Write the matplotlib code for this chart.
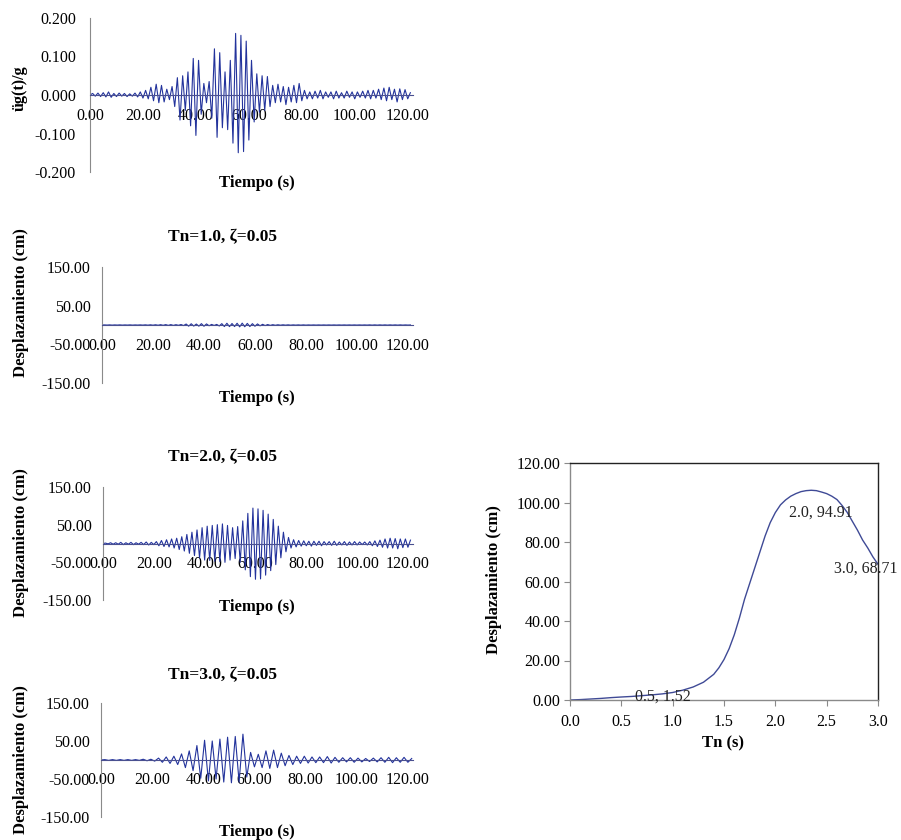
import matplotlib
matplotlib.use("Agg")
import matplotlib.pyplot as plt
import numpy as np
from matplotlib.ticker import FormatStrFormatter

plt.rcParams["font.family"] = ["Liberation Serif", "DejaVu Serif"]

W, H = 901, 840
BLUE = "#23339c"
AXIS = "#8a8a8a"

# ground acceleration (g), sampled every 1.0 s
ACC_DT = 1.0
ACC = [
    0.000, 0.004, -0.003, 0.005, -0.004, 0.006, -0.005, 0.008, -0.006, 0.004,
    -0.004, 0.005, -0.003, 0.004, -0.004, 0.003, -0.003, 0.005, -0.005, 0.008,
    -0.008, 0.012, -0.010, 0.020, -0.015, 0.028, -0.020, 0.025, -0.018, 0.015,
    -0.012, 0.022, -0.030, 0.045, -0.065, 0.050, -0.040, 0.060, -0.080, 0.095,
    -0.105, 0.090, -0.050, 0.030, -0.020, 0.035, -0.060, 0.120, -0.110, 0.110,
    -0.085, 0.060, -0.090, 0.090, -0.125, 0.160, -0.150, 0.155, -0.147, 0.140,
    -0.117, 0.090, -0.070, 0.055, -0.045, 0.050, -0.040, 0.048, -0.030, 0.025,
    -0.020, 0.028, -0.018, 0.022, -0.025, 0.020, -0.018, 0.025, -0.020, 0.030,
    -0.015, 0.012, -0.010, 0.008, -0.010, 0.010, -0.008, 0.012, -0.010, 0.008,
    -0.006, 0.008, -0.010, 0.010, -0.008, 0.006, -0.008, 0.010, -0.006, 0.008,
    -0.010, 0.008, -0.006, 0.010, -0.008, 0.012, -0.010, 0.012, -0.008, 0.015,
    -0.012, 0.018, -0.015, 0.020, -0.012, 0.015, -0.018, 0.016, -0.012, 0.014,
    -0.010, 0.006,
]

# displacement, Tn = 1.0 s (cm), every 1.0 s
U1_DT = 1.0
U1 = [
    0, 0.2, -0.2, 0.3, -0.3, 0.2, -0.2, 0.3, -0.3, 0.2,
    -0.2, 0.3, -0.3, 0.2, -0.2, 0.3, -0.3, 0.4, -0.4, 0.5,
    -0.5, 0.6, -0.6, 0.8, -0.8, 1.0, -1.0, 1.0, -1.0, 0.8,
    -0.8, 1.2, -1.5, 2.5, -3.0, 3.2, -2.8, 2.5, -3.0, 3.5,
    -3.2, 2.8, -2.0, 1.5, -1.2, 1.5, -2.5, 3.5, -4.0, 4.5,
    -4.2, 3.8, -4.0, 4.5, -4.8, 4.8, -4.5, 4.2, -4.0, 3.5,
    -3.2, 2.8, -2.2, 1.8, -1.5, 1.2, -1.0, 0.8, -0.7, 0.6,
    -0.5, 0.5, -0.4, 0.4, -0.4, 0.3, -0.3, 0.3, -0.3, 0.3,
    -0.3, 0.2, -0.2, 0.2, -0.2, 0.2, -0.2, 0.2, -0.2, 0.2,
    -0.2, 0.2, -0.2, 0.2, -0.2, 0.2, -0.2, 0.2, -0.2, 0.2,
    -0.2, 0.2, -0.2, 0.2, -0.2, 0.3, -0.3, 0.3, -0.3, 0.3,
    -0.3, 0.3, -0.3, 0.3, -0.3, 0.3, -0.3, 0.3, -0.3, 0.2,
    -0.2, 0.1,
]

# displacement, Tn = 2.0 s (cm), every 1.0 s
U2_DT = 1.0
U2 = [
    0, 1, -1, 2, -2, 2, -2, 3, -3, 2,
    -2, 3, -3, 2, -2, 3, -3, 4, -4, 3,
    -3, 5, -6, 8, -8, 10, -9, 12, -12, 14,
    -16, 18, -20, 24, -26, 30, -32, 36, -38, 42,
    -44, 46, -45, 48, -47, 50, -48, 52, -50, 48,
    -44, 42, -40, 45, -50, 60, -70, 80, -88, 94,
    -95, 92, -94, 88, -84, 78, -72, 64, -56, 46,
    -38, 30, -22, 16, -12, 10, -9, 8, -7, 7,
    -6, 6, -7, 6, -5, 6, -6, 5, -4, 5,
    -5, 6, -5, 4, -4, 5, -5, 4, -4, 5,
    -4, 4, -3, 4, -4, 5, -6, 7, -8, 9,
    -10, 12, -12, 14, -12, 13, -14, 12, -11, 12,
    -10, 9,
]

# displacement, Tn = 3.0 s (cm), every 1.5 s
U3_DT = 1.5
U3 = [
    0, 1, -1, 1, -1, 1, -1, 1, -1, 1,
    -1, 2, -2, 2, -3, 5, -6, 8, -9, 10,
    -12, 16, -20, 24, -28, 38, -48, 52, -55, 50,
    -50, 55, -58, 60, -60, 62, -58, 68, -45, 20,
    -18, 15, -20, 24, -22, 26, -20, 18, -15, 12,
    -12, 10, -9, 10, -8, 8, -7, 8, -7, 9,
    -8, 7, -6, 6, -5, 6, -6, 5, -5, 4,
    -4, 5, -5, 6, -6, 7, -7, 6, -6, 7,
    -6, 4,
]

# displacement spectrum (finer readings where the curve bends)
TN = [0.0, 0.1, 0.2, 0.3, 0.4, 0.5, 0.6, 0.7, 0.8, 0.9, 1.0,
      1.1, 1.2, 1.3, 1.4, 1.45, 1.5, 1.55, 1.6, 1.65, 1.7, 1.75,
      1.8, 1.85, 1.9, 1.95, 2.0, 2.05, 2.1, 2.15, 2.2, 2.25, 2.3,
      2.35, 2.4, 2.45, 2.5, 2.55, 2.6, 2.65, 2.7, 2.75, 2.8, 2.85,
      2.9, 2.95, 3.0]
SD = [0.0, 0.2, 0.5, 0.8, 1.2, 1.52, 1.8, 2.2, 2.6, 3.1, 3.8,
      5.0, 6.6, 9.0, 13.0, 16.3, 20.5, 26.0, 33.0, 41.5, 51.0, 59.0,
      67.0, 75.0, 83.0, 89.8, 94.91, 98.8, 101.3, 103.2, 104.5, 105.5, 106.0,
      106.2, 106.0, 105.3, 104.5, 103.2, 101.5, 98.5, 95.0, 90.5, 86.0, 81.0,
      77.0, 72.5, 68.71]
LABELLED_TN = [0.5, 2.0, 3.0]

FS = 11.5

fig = plt.figure(figsize=(W / 100, H / 100), dpi=100)
fig.patch.set_facecolor("white")


def px_axes(x0, x1, ytop, ybot):
    return fig.add_axes([x0 / W, 1 - ybot / H, (x1 - x0) / W, (ybot - ytop) / H])


def px_text(x, y, s, size=FS, **kw):
    fig.text(x / W, 1 - y / H, s, ha="center", va="center", fontsize=size, **kw)


def time_panel(ax, dt, vals, ylim, yticks, yfmt, ypad):
    t = np.arange(len(vals)) * dt
    ax.plot(t, vals, color=BLUE, lw=0.8)
    ax.set_xlim(0, 122)
    ax.set_ylim(*ylim)
    ax.set_yticks(yticks)
    ax.set_xticks(range(0, 121, 20))
    ax.xaxis.set_major_formatter(FormatStrFormatter("%.2f"))
    ax.yaxis.set_major_formatter(FormatStrFormatter(yfmt))
    for s in ("top", "right"):
        ax.spines[s].set_visible(False)
    ax.spines["left"].set_color(AXIS)
    ax.spines["bottom"].set_position(("data", 0))
    ax.spines["bottom"].set_color("#4a5090")
    ax.tick_params(length=0, labelsize=FS)
    ax.tick_params(axis="y", pad=ypad)
    ax.tick_params(axis="x", pad=9)
    ax.patch.set_alpha(0)


# panel 1: ground acceleration
ax1 = px_axes(90, 413, 18, 172)
time_panel(ax1, ACC_DT, ACC, (-0.2, 0.2), [-0.2, -0.1, 0.0, 0.1, 0.2], "%.3f", 10)
px_text(257, 183, "Tiempo (s)", size=12, fontweight="bold")
px_text(20, 88, "üg(t)/g", fontweight="bold", rotation=90)

# panels 2-4: displacement histories
DISP = [
    (U1_DT, U1, "Tn=1.0, ζ=0.05", 102, 267, 383, 237, 398, 303),
    (U2_DT, U2, "Tn=2.0, ζ=0.05", 103, 487, 600, 457, 607, 543),
    (U3_DT, U3, "Tn=3.0, ζ=0.05", 101, 703, 817, 675, 832, 760),
]
for dt, vals, title, x0, ytop, ybot, ty, ly, yl in DISP:
    ax = px_axes(x0, 413, ytop, ybot)
    time_panel(ax, dt, vals, (-150, 150), [-150, -50, 50, 150], "%.2f", 8)
    px_text(222, ty, title, size=12.5, fontweight="bold")
    px_text(257, ly, "Tiempo (s)", size=12, fontweight="bold")
    px_text(21, yl, "Desplazamiento (cm)", size=12, fontweight="bold", rotation=90)

# panel 5: spectrum
ax5 = px_axes(570, 878, 463, 700)
ax5.plot(TN, SD, color="#3f4a96", lw=1.0)
ax5.set_xlim(0, 3)
ax5.set_ylim(0, 120)
ax5.set_xticks(np.arange(0, 3.01, 0.5))
ax5.set_yticks(range(0, 121, 20))
ax5.xaxis.set_major_formatter(FormatStrFormatter("%.1f"))
ax5.yaxis.set_major_formatter(FormatStrFormatter("%.2f"))
ax5.tick_params(length=4, width=0.8, color=AXIS, labelsize=FS, pad=3)
ax5.tick_params(axis="x", pad=6)
for s in ax5.spines.values():
    s.set_color("#222222")
    s.set_linewidth(1.0)
ax5.spines["left"].set_color(AXIS)
ax5.spines["bottom"].set_color(AXIS)

offsets = {0.5: (10, 0, "left"), 2.0: (10, 0, "left"), 3.0: (-9, -3, "center")}
for tn in LABELLED_TN:
    sd = SD[TN.index(tn)]
    dx, dy, ha = offsets[tn]
    ax5.annotate(f"{tn:.1f}, {sd:.2f}", (tn, sd), xytext=(dx, dy),
                 textcoords="offset points", ha=ha, va="center",
                 fontsize=FS, color="#222222", annotation_clip=False)

px_text(723, 743, "Tn (s)", size=12, fontweight="bold")
px_text(494, 580, "Desplazamiento (cm)", size=12, fontweight="bold", rotation=90)

fig.savefig("out.png", dpi=100, facecolor="white")
